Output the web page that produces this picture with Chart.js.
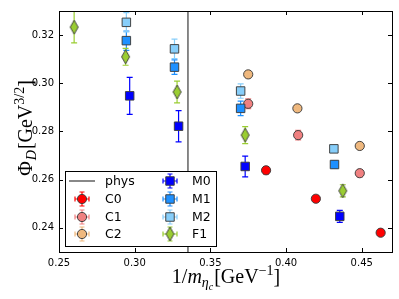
<!DOCTYPE html>
<html><head><meta charset="utf-8">
<script src="https://cdn.jsdelivr.net/npm/chart.js@4.4.1/dist/chart.umd.min.js"></script>
<style>html,body{margin:0;padding:0;background:#fff}#wrap{width:399px;height:299px}</style>
</head><body><div id="wrap"><canvas id="c" width="399" height="299"></canvas></div>
<script>
// ---- data ----
const seriesNames = ['C0','C1','C2','M0','M1','M2','F1'];
const c0X = [0.3868, 0.4197, 0.4625];
const c0Y = [0.2639, 0.2521, 0.2380];
const c0Err = [0.0015, 0.0012, 0.0010];
const c1X = [0.375, 0.408, 0.4487];
const c1Y = [0.2915, 0.2785, 0.2627];
const c1Err = [0.0020, 0.0020, 0.0015];
const c2X = [0.375, 0.4075, 0.4487];
const c2Y = [0.3037, 0.2896, 0.2740];
const c2Err = [0.0012, 0.0010, 0.0010];
const m0X = [0.2967, 0.329, 0.373, 0.4355];
const m0Y = [0.2948, 0.2822, 0.2655, 0.2448];
const m0Err = [0.0077, 0.0065, 0.0043, 0.0025];
const m1X = [0.2945, 0.3263, 0.370, 0.432];
const m1Y = [0.3177, 0.3067, 0.2896, 0.2663];
const m1Err = [0.0040, 0.0030, 0.0030, 0.0015];
const m2X = [0.2945, 0.3263, 0.370, 0.4316];
const m2Y = [0.3253, 0.3143, 0.2968, 0.2728];
const m2Err = [0.0040, 0.0040, 0.0030, 0.0015];
const f1X = [0.260, 0.294, 0.328, 0.373, 0.4375];
const f1Y = [0.3233, 0.3110, 0.2964, 0.2785, 0.2554];
const f1Err = [0.0065, 0.0035, 0.0045, 0.0035, 0.0025];
const physX = 0.3352;
const xTicks = [0.25, 0.30, 0.35, 0.40, 0.45];
const yTicks = [0.24, 0.26, 0.28, 0.30, 0.32];

// ---- styles ----
const EDGE = 'rgba(60,60,60,0.95)';
function diamondCanvas(fill){
  const cv = document.createElement('canvas'); cv.width = 11; cv.height = 16;
  const g = cv.getContext('2d');
  g.beginPath(); g.moveTo(5.5,1); g.lineTo(9.5,8); g.lineTo(5.5,15); g.lineTo(1.5,8); g.closePath();
  g.fillStyle = fill; g.fill(); g.strokeStyle = EDGE; g.lineWidth = 1; g.stroke();
  return cv;
}
const styles = {
  C0:{color:'#ff0000', shape:'circle', r:4.6},
  C1:{color:'#f08080', shape:'circle', r:4.6},
  C2:{color:'#efb87e', shape:'circle', r:4.6},
  M0:{color:'#0000ff', shape:'rect', r:6.0},
  M1:{color:'#1e90ff', shape:'rect', r:6.0},
  M2:{color:'#87cefa', shape:'rect', r:6.0},
  F1:{color:'#9acd32', shape:'diamond', r:6.0}
};
const raw = {C0:[c0X,c0Y,c0Err],C1:[c1X,c1Y,c1Err],C2:[c2X,c2Y,c2Err],M0:[m0X,m0Y,m0Err],M1:[m1X,m1Y,m1Err],M2:[m2X,m2Y,m2Err],F1:[f1X,f1Y,f1Err]};
const datasets = seriesNames.map((n,i)=>{
  const s = styles[n]; const [xs,ys,es] = raw[n];
  const ps = s.shape==='diamond' ? diamondCanvas(s.color) : s.shape;
  s.ps = ps;
  return {label:n, data: xs.map((x,j)=>({x, y:ys[j]})), errs: es,
    pointStyle: ps, pointRadius: s.r, pointHoverRadius: s.r,
    backgroundColor: s.color, borderColor: EDGE, borderWidth: 1, order: 10 - i, showLine:false};
});

const serifFont = '"Liberation Serif","DejaVu Serif",serif';
function drawRuns(ctx, runs, cx, baseline){
  let w = 0;
  runs.forEach(r=>{ ctx.font = r.f; r.w = ctx.measureText(r.t).width + (r.sp||0); w += r.w; });
  let x = cx - w/2;
  ctx.textBaseline = 'alphabetic'; ctx.textAlign = 'left'; ctx.fillStyle = '#000';
  runs.forEach(r=>{ ctx.font = r.f; ctx.fillText(r.t, x, baseline + (r.dy||0)); x += r.w; });
}

const plugin = {
  id:'extras',
  beforeDatasetsDraw(chart){
    const ctx = chart.ctx, xs = chart.scales.x, ys = chart.scales.y, ca = chart.chartArea;
    ctx.save();
    ctx.beginPath(); ctx.rect(ca.left, ca.top, ca.right-ca.left, ca.bottom-ca.top); ctx.clip();
    // phys line
    const px = xs.getPixelForValue(physX);
    ctx.strokeStyle = '#3a3a3a'; ctx.lineWidth = 1.2;
    ctx.beginPath(); ctx.moveTo(px, ca.top); ctx.lineTo(px, ca.bottom); ctx.stroke();
    // error bars
    chart.data.datasets.forEach((ds, di)=>{
      const col = styles[ds.label].color;
      ctx.strokeStyle = col; ctx.lineWidth = 1.2;
      ds.data.forEach((p, j)=>{
        const x = xs.getPixelForValue(p.x);
        const y1 = ys.getPixelForValue(p.y - ds.errs[j]);
        const y2 = ys.getPixelForValue(p.y + ds.errs[j]);
        ctx.beginPath();
        ctx.moveTo(x, y1); ctx.lineTo(x, y2);
        ctx.moveTo(x-3, y1); ctx.lineTo(x+3, y1);
        ctx.moveTo(x-3, y2); ctx.lineTo(x+3, y2);
        ctx.stroke();
      });
    });
    ctx.restore();
  },
  afterDraw(chart){
    const ctx = chart.ctx, xs = chart.scales.x, ys = chart.scales.y, ca = chart.chartArea;
    ctx.save();
    // frame
    ctx.strokeStyle = '#000'; ctx.lineWidth = 1;
    ctx.strokeRect(Math.round(ca.left)+0.5, Math.round(ca.top)+0.5, Math.round(ca.right-ca.left), Math.round(ca.bottom-ca.top));
    // inward ticks
    ctx.beginPath();
    xTicks.forEach(v=>{ const x = Math.round(xs.getPixelForValue(v))+0.5;
      ctx.moveTo(x, ca.bottom); ctx.lineTo(x, ca.bottom-4);
      ctx.moveTo(x, ca.top); ctx.lineTo(x, ca.top+4); });
    yTicks.forEach(v=>{ const y = Math.round(ys.getPixelForValue(v))+0.5;
      ctx.moveTo(ca.left, y); ctx.lineTo(ca.left+4, y);
      ctx.moveTo(ca.right, y); ctx.lineTo(ca.right-4, y); });
    ctx.stroke();
    // legend
    const lx = 65, ly = 171, lw = 151, lh = 75;
    ctx.fillStyle = '#fff'; ctx.fillRect(lx, ly, lw, lh);
    ctx.strokeStyle = '#000'; ctx.lineWidth = 1; ctx.strokeRect(lx+0.5, ly+0.5, lw, lh);
    const rows = [181, 199, 217, 234];
    const entries = [['phys',0,0],['C0',0,1],['C1',0,2],['C2',0,3],['M0',1,0],['M1',1,1],['M2',1,2],['F1',1,3]];
    ctx.font = '12.5px "DejaVu Sans", sans-serif'; ctx.textBaseline = 'middle'; ctx.textAlign = 'left';
    entries.forEach(([name,col,row])=>{
      const mx = col===0 ? 82 : 170, tx = col===0 ? 105 : 192, y = rows[row];
      if(name==='phys'){
        ctx.strokeStyle = '#3a3a3a'; ctx.lineWidth = 1.2;
        ctx.beginPath(); ctx.moveTo(69, y); ctx.lineTo(95, y); ctx.stroke();
      } else {
        const s = styles[name];
        ctx.strokeStyle = s.color; ctx.lineWidth = 1.2;
        ctx.beginPath();
        ctx.moveTo(mx-7, y); ctx.lineTo(mx+7, y); ctx.moveTo(mx, y-7); ctx.lineTo(mx, y+7);
        ctx.moveTo(mx-7, y-2.5); ctx.lineTo(mx-7, y+2.5); ctx.moveTo(mx+7, y-2.5); ctx.lineTo(mx+7, y+2.5);
        ctx.moveTo(mx-2.5, y-7); ctx.lineTo(mx+2.5, y-7); ctx.moveTo(mx-2.5, y+7); ctx.lineTo(mx+2.5, y+7);
        ctx.stroke();
        ctx.fillStyle = s.color; ctx.strokeStyle = EDGE; ctx.lineWidth = 1;
        Chart.helpers.drawPoint(ctx, {pointStyle: s.ps, radius: s.r, rotation: 0, borderWidth: 1}, mx, y);
      }
      ctx.fillStyle = '#000';
      ctx.fillText(name, tx, y+0.5);
    });
    // axis titles
    const big = '20px ' + serifFont, bigI = 'italic 20px ' + serifFont;
    const sm = '14px ' + serifFont, smI = 'italic 14px ' + serifFont, tinyI = 'italic 10px ' + serifFont;
    drawRuns(ctx, [
      {t:'1/', f:big}, {t:'m', f:bigI}, {t:'η', f:smI, dy:4}, {t:'c', f:tinyI, dy:7, sp:1},
      {t:'[GeV', f:big}, {t:'−1', f:sm, dy:-8}, {t:']', f:big}
    ], 226, 283);
    ctx.save();
    ctx.translate(32, 128); ctx.rotate(-Math.PI/2);
    drawRuns(ctx, [
      {t:'Φ', f:big, sp:1}, {t:'D', f:smI, dy:4, sp:1}, {t:'[GeV', f:big}, {t:'3/2', f:sm, dy:-8}, {t:']', f:big}
    ], 0, 0);
    ctx.restore();
    ctx.restore();
  }
};

new Chart(document.getElementById('c'), {
  type:'scatter',
  data:{datasets},
  options:{
    responsive:false, animation:false, devicePixelRatio:1,
    layout:{padding:{left:0, right:6, top:6, bottom:0}},
    plugins:{legend:{display:false}, tooltip:{enabled:false}},
    scales:{
      x:{type:'linear', min:0.25, max:0.47,
        afterBuildTicks(s){ s.ticks = xTicks.map(v=>({value:v})); },
        afterFit(s){ s.height = 47; },
        grid:{display:false, drawTicks:false}, border:{display:false},
        ticks:{padding:5, color:'#000', font:{family:'"DejaVu Sans", sans-serif', size:10}, maxRotation:0,
          callback:v=>v.toFixed(2)}},
      y:{type:'linear', min:0.23, max:0.33,
        afterBuildTicks(s){ s.ticks = yTicks.map(v=>({value:v})); },
        afterFit(s){ s.width = 59; },
        grid:{display:false, drawTicks:false}, border:{display:false},
        ticks:{padding:5, color:'#000', font:{family:'"DejaVu Sans", sans-serif', size:10},
          callback:v=>v.toFixed(2)}}
    }
  },
  plugins:[plugin]
});
</script>
</body></html>
